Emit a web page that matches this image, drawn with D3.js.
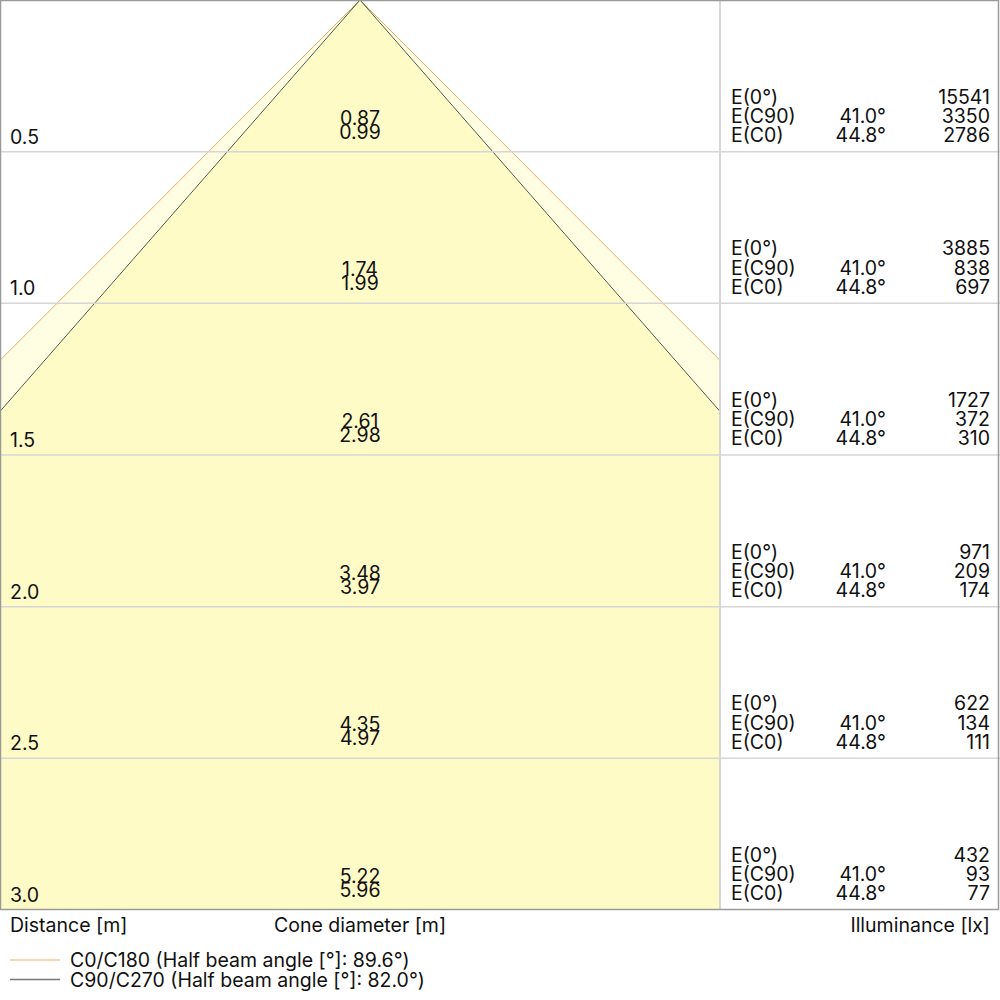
<!DOCTYPE html>
<html><head><meta charset="utf-8">
<script src="https://cdn.jsdelivr.net/npm/d3@7"></script>
<style>body{margin:0;background:#fff}svg{display:block;font-family:Inter,"Noto Sans",sans-serif}</style>
</head><body>
<script>
const distances = [0.5, 1.0, 1.5, 2.0, 2.5, 3.0];
const distanceLabels = ["0.5", "1.0", "1.5", "2.0", "2.5", "3.0"];
const diamC90 = ["0.87", "1.74", "2.61", "3.48", "4.35", "5.22"];
const diamC0 = ["0.99", "1.99", "2.98", "3.97", "4.97", "5.96"];
const e0 = [15541, 3885, 1727, 971, 622, 432];
const eC90 = [3350, 838, 372, 209, 134, 93];
const eC0 = [2786, 697, 310, 174, 111, 77];
const angleC90 = "41.0°";
const angleC0 = "44.8°";
const legendLabels = ["C0/C180 (Half beam angle [°]: 89.6°)", "C90/C270 (Half beam angle [°]: 82.0°)"];

const W = 1000, H = 1000;
const svg = d3.select("body").append("svg").attr("width", W).attr("height", H);
const y = d3.scaleLinear().domain([0, 3]).range([0, 910]);
const x = d3.scaleLinear().domain([-1.18, 1.18]).range([0, 720]);

const defs = svg.append("defs");
defs.append("clipPath").attr("id", "cone").append("rect").attr("x", 0).attr("y", 0).attr("width", 720).attr("height", 910);

const dMax = distances[distances.length - 1];
const hw0 = +diamC0[diamC0.length - 1] / 2;
const hw90 = +diamC90[diamC90.length - 1] / 2;
const line = d3.line().x(d => x(d[0])).y(d => y(d[1]));

const g = svg.append("g").attr("clip-path", "url(#cone)");
g.append("path").attr("d", line([[-hw0, dMax], [0, 0], [hw0, dMax]]) + "Z").attr("fill", "#fffde2");
g.append("path").attr("d", line([[-hw90, dMax], [0, 0], [hw90, dMax]]) + "Z").attr("fill", "#fffbc6");
g.append("path").attr("d", line([[-hw0, dMax], [0, 0], [hw0, dMax]])).attr("fill", "none").attr("stroke", "#f0a860").attr("stroke-width", 1);
g.append("path").attr("d", line([[-hw90, dMax], [0, 0], [hw90, dMax]])).attr("fill", "none").attr("stroke", "#555a50").attr("stroke-width", 1);

// grid
svg.selectAll("line.row").data(distances.slice(0, -1)).join("line")
  .attr("x1", 0).attr("x2", W).attr("y1", d => y(d)).attr("y2", d => y(d))
  .attr("stroke", "#d6d6d6").attr("stroke-width", 1.5);
svg.append("line").attr("x1", 720).attr("x2", 720).attr("y1", 0).attr("y2", 910).attr("stroke", "#d6d6d6").attr("stroke-width", 2);
svg.append("rect").attr("x", 0.5).attr("y", 0.5).attr("width", 998).attr("height", 909).attr("fill", "none").attr("stroke", "#9a9a9a").attr("stroke-width", 1.5);

const fs = 19.5;
const txt = (sel) => sel.attr("font-size", fs).attr("fill", "#111");
distances.forEach((d, i) => {
  const Y = y(d);
  txt(svg.append("text")).attr("x", 10).attr("y", Y - 8).text(distanceLabels[i]);
  txt(svg.append("text")).attr("x", x(0)).attr("y", Y - 27).attr("text-anchor", "middle").text(diamC90[i]);
  txt(svg.append("text")).attr("x", x(0)).attr("y", Y - 13).attr("text-anchor", "middle").text(diamC0[i]);
  const rows = [["E(0°)", "", e0[i]], ["E(C90)", angleC90, eC90[i]], ["E(C0)", angleC0, eC0[i]]];
  rows.forEach((r, j) => {
    const by = Y - 48 + j * 19.2;
    txt(svg.append("text")).attr("x", 731).attr("y", by).text(r[0]);
    if (r[1]) txt(svg.append("text")).attr("x", 886).attr("y", by).attr("text-anchor", "end").text(r[1]);
    txt(svg.append("text")).attr("x", 990).attr("y", by).attr("text-anchor", "end").text(r[2]);
  });
});

txt(svg.append("text")).attr("x", 10).attr("y", 932).text("Distance [m]");
txt(svg.append("text")).attr("x", 360).attr("y", 932).attr("text-anchor", "middle").text("Cone diameter [m]");
txt(svg.append("text")).attr("x", 990).attr("y", 932).attr("text-anchor", "end").text("Illuminance [lx]");

const legColors = ["#f5c898", "#777777"];
legendLabels.forEach((l, i) => {
  const ly = 960 + i * 19.5;
  svg.append("line").attr("x1", 10).attr("x2", 60).attr("y1", ly).attr("y2", ly).attr("stroke", legColors[i]).attr("stroke-width", 1.5);
  txt(svg.append("text")).attr("x", 70).attr("y", ly + 7).text(l);
});
</script>
</body></html>
